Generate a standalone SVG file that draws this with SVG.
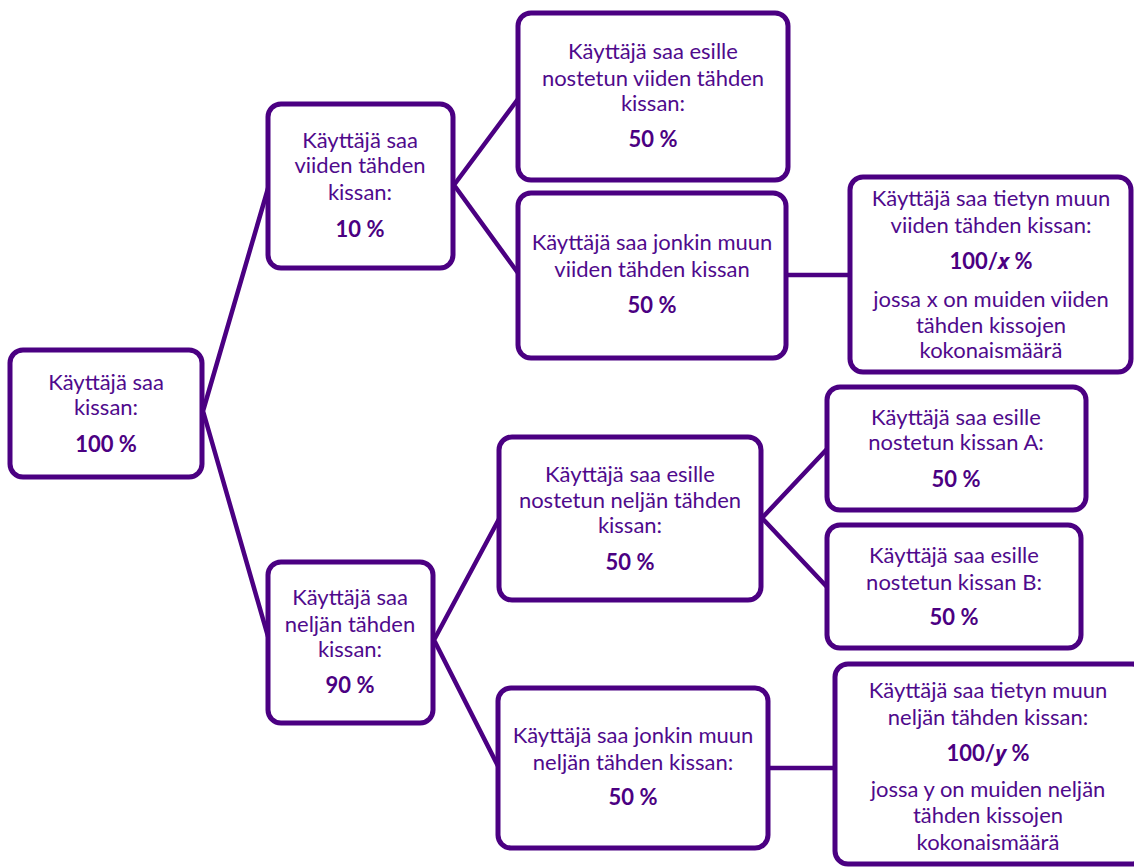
<svg xmlns="http://www.w3.org/2000/svg" width="1134" height="868" viewBox="0 0 1134 868">
<style>
.box{fill:#ffffff;stroke:#4b0082;stroke-width:5}
.c{fill:none;stroke:#4b0082;stroke-width:4.5;stroke-linecap:round}
text{font-family:Lato,"Liberation Sans",sans-serif;font-size:22px;fill:#4f0a8c;text-anchor:middle}
.b{font-weight:bold;fill:#4b0082}
.i{font-family:"Open Sans","Noto Sans",sans-serif;font-style:italic;font-size:21px}
</style>
<rect width="1134" height="868" fill="#ffffff"/>
<g id="connectors">
<path class="c" d="M203,411 L269,185 M203,411 L269,640"/>
<path class="c" d="M454,185 L518,99 M454,185 L518,273"/>
<path class="c" d="M434,640 L499,519 M434,640 L499,768"/>
<path class="c" d="M762,518 L827,449 M762,518 L827,587"/>
<path class="c" d="M787,275 L850,275"/>
<path class="c" d="M768,768 L835,768"/>
</g>
<g id="n-root">
<rect class="box" x="10" y="350" width="192" height="127" rx="13"/>
<text x="106" y="390">Käyttäjä saa</text>
<text x="106" y="415">kissan:</text>
<text x="106" y="452" class="b">100 %</text>
</g>
<g id="n-viiden">
<rect class="box" x="268" y="104" width="185" height="164" rx="13"/>
<text x="360" y="148">Käyttäjä saa</text>
<text x="360" y="173">viiden tähden</text>
<text x="360" y="200">kissan:</text>
<text x="360" y="237" class="b">10 %</text>
</g>
<g id="n-viiden-esille">
<rect class="box" x="518" y="13" width="270" height="167" rx="13"/>
<text x="653" y="59">Käyttäjä saa esille</text>
<text x="653" y="86">nostetun viiden tähden</text>
<text x="653" y="111">kissan:</text>
<text x="653" y="147" class="b">50 %</text>
</g>
<g id="n-viiden-muu">
<rect class="box" x="518" y="193" width="268" height="165" rx="13"/>
<text x="652" y="250">Käyttäjä saa jonkin muun</text>
<text x="652" y="277">viiden tähden kissan</text>
<text x="652" y="313" class="b">50 %</text>
</g>
<g id="n-viiden-tietty">
<rect class="box" x="850" y="177" width="281" height="195" rx="13"/>
<text x="991" y="206">Käyttäjä saa tietyn muun</text>
<text x="991" y="233">viiden tähden kissan:</text>
<text x="991" y="269" class="b">100/<tspan class="i">x</tspan> %</text>
<text x="991" y="307">jossa x on muiden viiden</text>
<text x="991" y="333">tähden kissojen</text>
<text x="991" y="358">kokonaismäärä</text>
</g>
<g id="n-neljan">
<rect class="box" x="268" y="562" width="165" height="161" rx="13"/>
<text x="350" y="605">Käyttäjä saa</text>
<text x="350" y="632">neljän tähden</text>
<text x="350" y="657">kissan:</text>
<text x="350" y="693" class="b">90 %</text>
</g>
<g id="n-neljan-esille">
<rect class="box" x="499" y="437" width="262" height="163" rx="13"/>
<text x="630" y="482">Käyttäjä saa esille</text>
<text x="630" y="508">nostetun neljän tähden</text>
<text x="630" y="533">kissan:</text>
<text x="630" y="570" class="b">50 %</text>
</g>
<g id="n-kissa-a">
<rect class="box" x="827" y="387" width="259" height="123" rx="13"/>
<text x="956" y="425">Käyttäjä saa esille</text>
<text x="956" y="450">nostetun kissan A:</text>
<text x="956" y="487" class="b">50 %</text>
</g>
<g id="n-kissa-b">
<rect class="box" x="827" y="525" width="254" height="123" rx="13"/>
<text x="954" y="563">Käyttäjä saa esille</text>
<text x="954" y="590">nostetun kissan B:</text>
<text x="954" y="625" class="b">50 %</text>
</g>
<g id="n-neljan-muu">
<rect class="box" x="498" y="688" width="270" height="160" rx="13"/>
<text x="633" y="743">Käyttäjä saa jonkin muun</text>
<text x="633" y="770">neljän tähden kissan:</text>
<text x="633" y="805" class="b">50 %</text>
</g>
<g id="n-neljan-tietty">
<rect class="box" x="835" y="664" width="310" height="200" rx="13"/>
<text x="988" y="698">Käyttäjä saa tietyn muun</text>
<text x="988" y="725">neljän tähden kissan:</text>
<text x="988" y="761" class="b">100/<tspan class="i">y</tspan> %</text>
<text x="988" y="797">jossa y on muiden neljän</text>
<text x="988" y="823">tähden kissojen</text>
<text x="988" y="850">kokonaismäärä</text>
</g>
</svg>
